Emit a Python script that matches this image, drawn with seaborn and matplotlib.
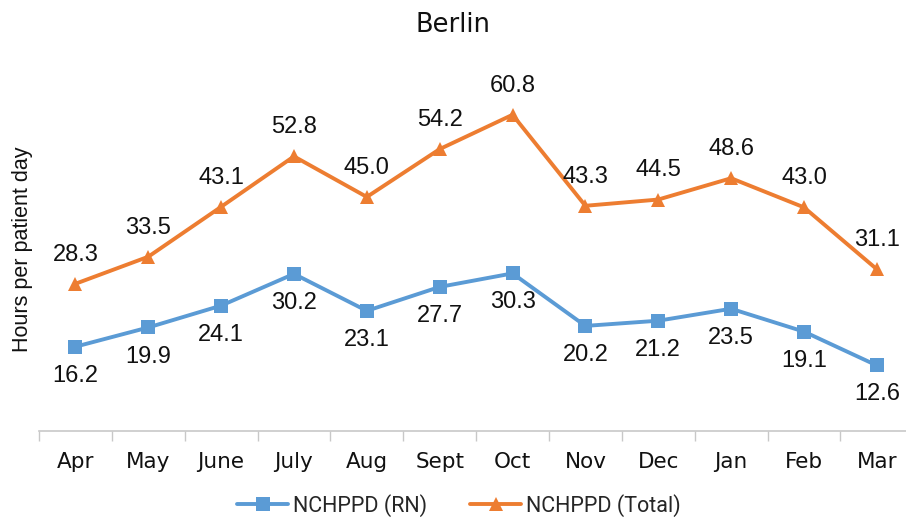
import numpy as np
import pandas as pd
import matplotlib
matplotlib.use('Agg')
import matplotlib.pyplot as plt
import seaborn as sns

months = ['Apr', 'May', 'June', 'July', 'Aug', 'Sept', 'Oct', 'Nov', 'Dec', 'Jan', 'Feb', 'Mar']
rn = [16.2, 19.9, 24.1, 30.2, 23.1, 27.7, 30.3, 20.2, 21.2, 23.5, 19.1, 12.6]
total = [28.3, 33.5, 43.1, 52.8, 45.0, 54.2, 60.8, 43.3, 44.5, 48.6, 43.0, 31.1]

sns.set_style('white')
plt.rcParams['font.family'] = ['DejaVu Sans']

df = pd.DataFrame({'month': months * 2,
                   'value': rn + total,
                   'series': ['NCHPPD (RN)'] * 12 + ['NCHPPD (Total)'] * 12})
df['x'] = list(range(12)) * 2

fig = plt.figure(figsize=(9.06, 5.23), dpi=100)
ax = fig.add_axes([0.043, 0.176, 0.965, 0.696])

palette = {'NCHPPD (RN)': '#5B9BD5', 'NCHPPD (Total)': '#ED7D31'}
sns.lineplot(data=df, x='x', y='value', hue='series', style='series',
             markers={'NCHPPD (RN)': 's', 'NCHPPD (Total)': '^'}, dashes=False,
             palette=palette, linewidth=2.8, markersize=9.5, markeredgewidth=0, ax=ax)

for i in range(12):
    ax.annotate(f'{rn[i]:.1f}', (i, rn[i]), xytext=(0, -13), textcoords='offset points',
                ha='center', va='top', fontsize=17, family='Liberation Sans', color='#111111')
    ax.annotate(f'{total[i]:.1f}', (i, total[i]), xytext=(0, 13), textcoords='offset points',
                ha='center', va='bottom', fontsize=17, family='Liberation Sans', color='#111111')

ax.set_xlim(-0.5, 11.5)
ax.set_ylim(0, 70)
ax.set_xticks(range(12))
ax.set_xticklabels(months, fontsize=15.5)
ax.set_xticks(np.arange(-0.5, 12, 1), minor=True)
ax.tick_params(axis='x', which='major', bottom=False, length=0, pad=15, labelcolor='#111111')
ax.tick_params(axis='x', which='minor', bottom=True, length=7, width=1, color='#C8C8C8', direction='out')
ax.set_yticks([])
ax.set_xlabel('')
ax.set_ylabel('Hours per patient day', fontsize=15.5, family='Liberation Sans', color='#111111')
ax.yaxis.set_label_coords(-0.007, 0.5)
for s in ['top', 'right', 'left']:
    ax.spines[s].set_visible(False)
ax.spines['bottom'].set_color('#C8C8C8')
ax.spines['bottom'].set_linewidth(1.2)

fig.suptitle('Berlin', x=0.5, y=0.977, fontsize=18.5, color='#111111')

handles, labels = ax.get_legend_handles_labels()
ax.legend(handles, labels, loc='lower center', bbox_to_anchor=(0.48, -0.29), ncol=2,
          frameon=False, prop={'family': 'Roboto', 'size': 15.5}, handlelength=2.4,
          columnspacing=2.0, handletextpad=0.2)

fig.savefig('out.png', dpi=100)
